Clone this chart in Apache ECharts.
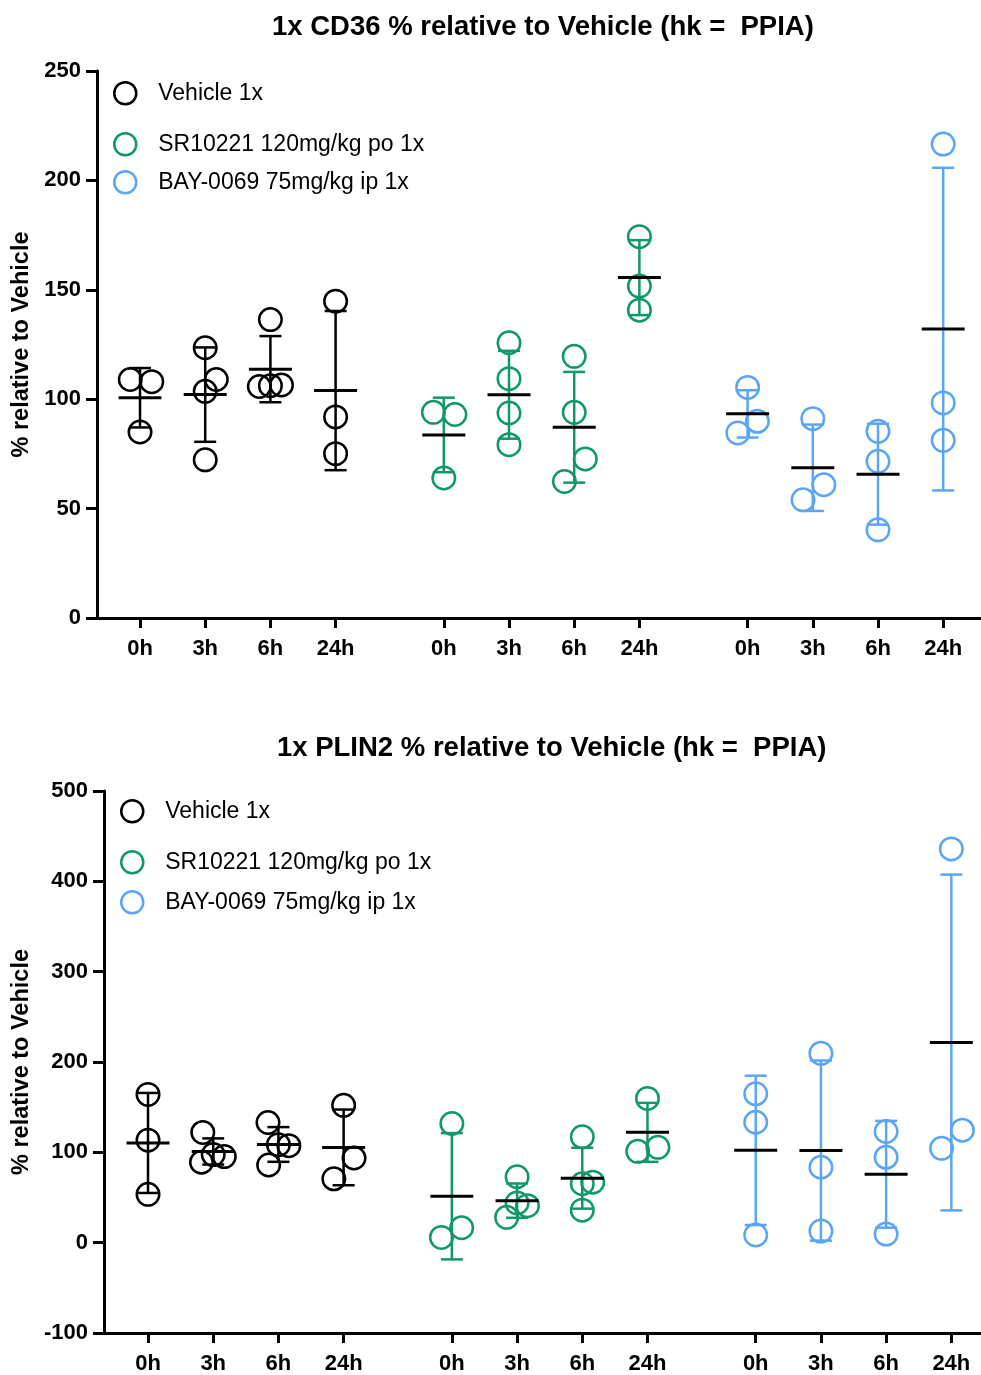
<!DOCTYPE html>
<html><head><meta charset="utf-8">
<script src="https://cdn.jsdelivr.net/npm/echarts@6/dist/echarts.min.js"></script>
<style>html,body{margin:0;padding:0;background:#fff}#c{width:981px;height:1375px}</style>
</head><body><div id="c"></div>
<script>
// ---------- texts ----------
const timeLabels = ['0h', '3h', '6h', '24h'];
const groupNames = ['Vehicle 1x', 'SR10221 120mg/kg po 1x', 'BAY-0069 75mg/kg ip 1x'];
const cd36Title = '1x CD36 % relative to Vehicle (hk =  PPIA)';
const plin2Title = '1x PLIN2 % relative to Vehicle (hk =  PPIA)';
const yAxisTitle = '% relative to Vehicle';

// ---------- CD36 values (per time point: 0h, 3h, 6h, 24h) ----------
const cd36Vehicle = [[109, 108, 85], [123.5, 109, 103.6, 72.3], [136.4, 105.8, 106.2, 106.5], [144.8, 91.9, 75.1]];
const cd36SR = [[94, 93, 64], [125.8, 109.4, 93.7, 79.2], [119.6, 94, 72.7, 62.4], [174.3, 151.7, 140.7]];
const cd36BAY = [[105.4, 89.9, 84.6], [91.1, 60.9, 54], [85.3, 71.6, 40.3], [216.6, 98.3, 81.2]];

// ---------- PLIN2 values ----------
const plin2Vehicle = [[164.1, 113.5, 53.5], [122, 89, 97.5, 95.3], [133, 86, 108.5, 107.4], [152, 93.7, 70.7]];
const plin2SR = [[131.9, 16.5, 5.8], [73, 44, 41, 28], [117.2, 65.2, 67, 36], [159.7, 101.1, 105.5]];
const plin2BAY = [[164.8, 133.3, 8.5], [209.6, 83.5, 12.8], [123.1, 94.5, 9.5], [435.9, 124.5, 104.4]];

// ---------- horizontal scatter offsets of points (layout, in category widths) ----------
const cd36Jitter = [
  [[-0.15, 0.18, 0], [0, 0.17, 0, 0], [0, -0.17, 0, 0.17], [0, 0, 0]],
  [[-0.16, 0.17, 0], [0, 0, 0, 0], [0, 0, 0.17, -0.15], [0, 0, 0]],
  [[0, 0.15, -0.15], [0, 0.17, -0.15], [0, 0, 0], [0, 0, 0]]
];
const plin2Jitter = [
  [[0, 0, 0], [-0.16, -0.18, 0, 0.17], [-0.16, -0.15, 0, 0.16], [0, 0.16, -0.15]],
  [[0, 0.15, -0.16], [0, 0, 0.16, -0.16], [0, 0, 0.16, 0], [0, -0.15, 0.16]],
  [[0, 0, 0], [0, 0, 0], [0, 0, 0], [0, 0.17, -0.15]]
];

// ---------- layout / style ----------
const COLORS = ['#000000', '#10986a', '#5aa5f6'];
const GROUP_STEP = 4.66;
const FONT = '"Liberation Sans", Arial, Helvetica, sans-serif';

function pos(g, i) { return +(g * GROUP_STEP + i).toFixed(2); }
const tickPositions = [];
const tickLabelMap = {};
for (let g = 0; g < 3; g++) for (let i = 0; i < 4; i++) {
  const p = pos(g, i); tickPositions.push(p); tickLabelMap[p.toFixed(2)] = timeLabels[i];
}

function mean(a) { return a.reduce((s, v) => s + v, 0) / a.length; }
function sd(a) { const m = mean(a); return Math.sqrt(a.reduce((s, v) => s + (v - m) * (v - m), 0) / (a.length - 1)); }

const charts = [
  { title: cd36Title, groups: [cd36Vehicle, cd36SR, cd36BAY], jitter: cd36Jitter,
    grid: { left: 97, top: 71, width: 884, height: 547 }, xMin: -0.66, xMax: 12.9,
    yMin: 0, yMax: 250, yInterval: 50, nameGap: 62, titleLeft: 267, titleTop: 8,
    legendLeft: 113, legendCenters: [93, 144, 182] },
  { title: plin2Title, groups: [plin2Vehicle, plin2SR, plin2BAY], jitter: plin2Jitter,
    grid: { left: 104, top: 791, width: 877, height: 546 }, xMin: -0.675, xMax: 12.775,
    yMin: -100, yMax: 500, yInterval: 100, nameGap: 69, titleLeft: 272, titleTop: 729,
    legendLeft: 120, legendCenters: [811, 862, 902] }
];

const option = { animation: false, backgroundColor: '#fff', title: [], grid: [], xAxis: [], yAxis: [], legend: [], series: [] };

charts.forEach((c, ci) => {
  option.title.push({ text: c.title, left: c.titleLeft, top: c.titleTop,
    textStyle: { fontFamily: FONT, fontSize: 27.5, fontWeight: 'bold', color: '#000' } });
  option.grid.push(Object.assign({ containLabel: false }, c.grid));
  option.xAxis.push({
    type: 'value', gridIndex: ci, min: c.xMin, max: c.xMax,
    axisLine: { onZero: false, lineStyle: { color: '#000', width: 3 } },
    axisTick: { show: true, customValues: tickPositions, length: 10, lineStyle: { color: '#000', width: 3 } },
    axisLabel: { customValues: tickPositions, margin: 20, fontFamily: FONT, fontSize: 22, fontWeight: 'bold', color: '#000',
      formatter: v => tickLabelMap[(+v).toFixed(2)] || '' },
    splitLine: { show: false }
  });
  option.yAxis.push({
    type: 'value', gridIndex: ci, min: c.yMin, max: c.yMax, interval: c.yInterval,
    name: yAxisTitle, nameLocation: 'middle', nameGap: c.nameGap,
    nameTextStyle: { fontFamily: FONT, fontSize: 23.5, fontWeight: 'bold', color: '#000' },
    axisLine: { show: true, onZero: false, lineStyle: { color: '#000', width: 3 } },
    axisTick: { show: true, length: 11, lineStyle: { color: '#000', width: 3 } },
    axisLabel: { margin: 16, fontFamily: FONT, fontSize: 22, fontWeight: 'bold', color: '#000' },
    splitLine: { show: false }
  });
  groupNames.forEach((name, g) => {
    option.legend.push({
      data: [{ name: name, icon: 'circle', itemStyle: { color: 'rgba(0,0,0,0)', borderColor: COLORS[g], borderWidth: 2.5 } }],
      left: c.legendLeft, top: c.legendCenters[g] - 12, padding: 0, itemWidth: 22, itemHeight: 22,
      selectedMode: false,
      textStyle: { fontFamily: FONT, fontSize: 23, color: '#000', lineHeight: 24, padding: [0, 0, 0, 17] }
    });
    const pts = [];
    const stats = [];
    c.groups[g].forEach((vals, i) => {
      const p = pos(g, i);
      vals.forEach((v, k) => pts.push([p + c.jitter[g][i][k], v]));
      stats.push([p, mean(vals), sd(vals)]);
    });
    option.series.push({
      type: 'scatter', name: name, xAxisIndex: ci, yAxisIndex: ci, data: pts, z: 2,
      symbol: 'circle', symbolSize: 22.5,
      itemStyle: { color: 'rgba(0,0,0,0)', borderColor: COLORS[g], borderWidth: 2.5, opacity: 1 },
      emphasis: { disabled: true }
    });
    const col = COLORS[g];
    option.series.push({
      type: 'custom', name: 'err' + ci + '_' + g, xAxisIndex: ci, yAxisIndex: ci, data: stats, z: 3,
      renderItem: function (params, api) {
        const x = api.value(0), m = api.value(1), s = api.value(2);
        const t = api.coord([x, m + s]), b = api.coord([x, m - s]), md = api.coord([x, m]);
        const ls = { stroke: col, lineWidth: 2.5 };
        return { type: 'group', children: [
          { type: 'line', shape: { x1: t[0], y1: t[1], x2: b[0], y2: b[1] }, style: ls },
          { type: 'line', shape: { x1: t[0] - 11, y1: t[1], x2: t[0] + 11, y2: t[1] }, style: ls },
          { type: 'line', shape: { x1: b[0] - 11, y1: b[1], x2: b[0] + 11, y2: b[1] }, style: ls },
          { type: 'line', shape: { x1: md[0] - 21.5, y1: md[1], x2: md[0] + 21.5, y2: md[1] }, style: { stroke: '#000', lineWidth: 3 } }
        ] };
      }
    });
  });
});

const chart = echarts.init(document.getElementById('c'), null, { renderer: 'canvas' });
chart.setOption(option);
</script>
</body></html>
